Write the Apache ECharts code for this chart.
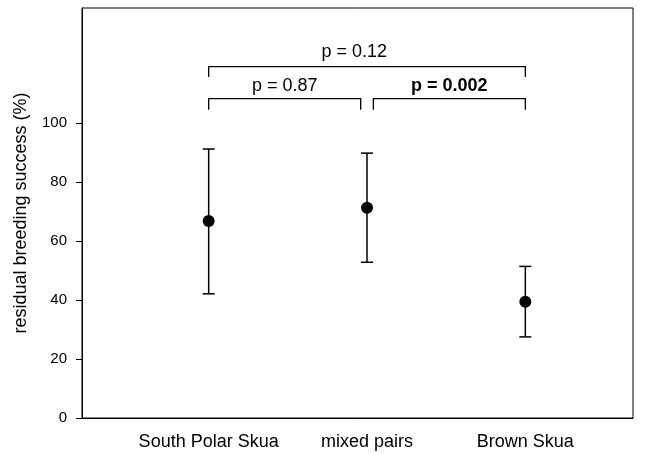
<!DOCTYPE html>
<html>
<head>
<meta charset="utf-8">
<script src="https://cdn.jsdelivr.net/npm/echarts@6/dist/echarts.min.js"></script>
<style>
  html, body { margin: 0; padding: 0; background: #fff; }
  #chart { width: 645px; height: 454px; }
</style>
</head>
<body>
<div id="chart"></div>
<script>
// groups along the x axis
const groups = ['South Polar Skua', 'mixed pairs', 'Brown Skua'];
const groupPos = [1, 2, 3];
// means and error bar ends (%)
const means = [66.8, 71.3, 39.4];
const upper = [91.2, 89.8, 51.4];
const lower = [42.1, 52.8, 27.5];
const yTicks = [0, 20, 40, 60, 80, 100];

// significance brackets: from, to, level, drop, label, bold
const bracketFrom = [1, 1, 2.04];
const bracketTo = [3, 1.96, 3];
const bracketLevel = [119.1, 108.3, 108.3];
const bracketDrop = [115.6, 104.5, 104.5];
const bracketText = ['p = 0.12', 'p = 0.87', 'p = 0.002'];
const bracketTextX = [1.92, 1.48, 2.52];
const bracketTextY = [124.0, 112.5, 112.5];
const bracketBold = [false, false, true];

const FONT = 'Liberation Sans, Arial, sans-serif';

const chart = echarts.init(document.getElementById('chart'));

const errData = groupPos.map((x, i) => [x, lower[i], upper[i]]);
const bracketData = bracketFrom.map((x, i) => [x, bracketTo[i], bracketLevel[i], bracketDrop[i], bracketTextX[i], bracketTextY[i], i]);

const option = {
  backgroundColor: '#ffffff',
  animation: false,
  grid: {
    left: 82, right: 12, top: 8, bottom: 36,
    show: true, borderColor: '#000', borderWidth: 1
  },
  xAxis: {
    type: 'value',
    min: 0.2,
    max: 3.68,
    splitLine: { show: false },
    axisLine: { show: true, lineStyle: { color: '#000', width: 1 } },
    axisTick: { show: false },
    axisLabel: {
      customValues: groupPos,
      formatter: v => groups[groupPos.indexOf(v)] || '',
      color: '#000',
      fontFamily: FONT,
      fontSize: 18,
      margin: 15
    }
  },
  yAxis: {
    type: 'value',
    min: 0,
    max: 139,
    splitLine: { show: false },
    axisLine: { show: true, lineStyle: { color: '#000', width: 1 } },
    axisTick: { show: true, customValues: yTicks, length: 6, lineStyle: { color: '#000' } },
    axisLabel: {
      customValues: yTicks,
      color: '#000',
      fontFamily: FONT,
      fontSize: 15,
      margin: 15
    },
    name: 'residual breeding success (%)',
    nameLocation: 'middle',
    nameGap: 52,
    nameTextStyle: { color: '#000', fontFamily: FONT, fontSize: 18 }
  },
  series: [
    {
      type: 'custom',
      data: errData,
      renderItem: (params, api) => {
        const top = api.coord([api.value(0), api.value(2)]);
        const bot = api.coord([api.value(0), api.value(1)]);
        const cap = 6;
        const style = { stroke: '#000', lineWidth: 1.5, fill: null };
        return {
          type: 'group',
          children: [
            { type: 'line', shape: { x1: top[0], y1: top[1], x2: bot[0], y2: bot[1] }, style },
            { type: 'line', shape: { x1: top[0] - cap, y1: top[1], x2: top[0] + cap, y2: top[1] }, style },
            { type: 'line', shape: { x1: bot[0] - cap, y1: bot[1], x2: bot[0] + cap, y2: bot[1] }, style }
          ]
        };
      },
      z: 2
    },
    {
      type: 'scatter',
      data: groupPos.map((x, i) => [x, means[i]]),
      symbol: 'circle',
      symbolSize: 12,
      itemStyle: { color: '#000', opacity: 1 },
      z: 3
    },
    {
      type: 'custom',
      data: bracketData,
      renderItem: (params, api) => {
        const i = api.value(6);
        const a = api.coord([api.value(0), api.value(2)]);
        const b = api.coord([api.value(1), api.value(2)]);
        const da = api.coord([api.value(0), api.value(3)]);
        const t = api.coord([api.value(4), api.value(5)]);
        const style = { stroke: '#000', lineWidth: 1.3, fill: null };
        return {
          type: 'group',
          children: [
            { type: 'polyline', shape: { points: [[da[0], da[1]], [a[0], a[1]], [b[0], b[1]], [b[0], da[1]]] }, style },
            {
              type: 'text',
              x: t[0], y: t[1],
              style: {
                text: bracketText[i],
                fill: '#000',
                font: (bracketBold[i] ? 'bold ' : '') + '18px ' + FONT,
                align: 'center',
                verticalAlign: 'middle'
              }
            }
          ]
        };
      }
    }
  ]
};

chart.setOption(option);
</script>
</body>
</html>
